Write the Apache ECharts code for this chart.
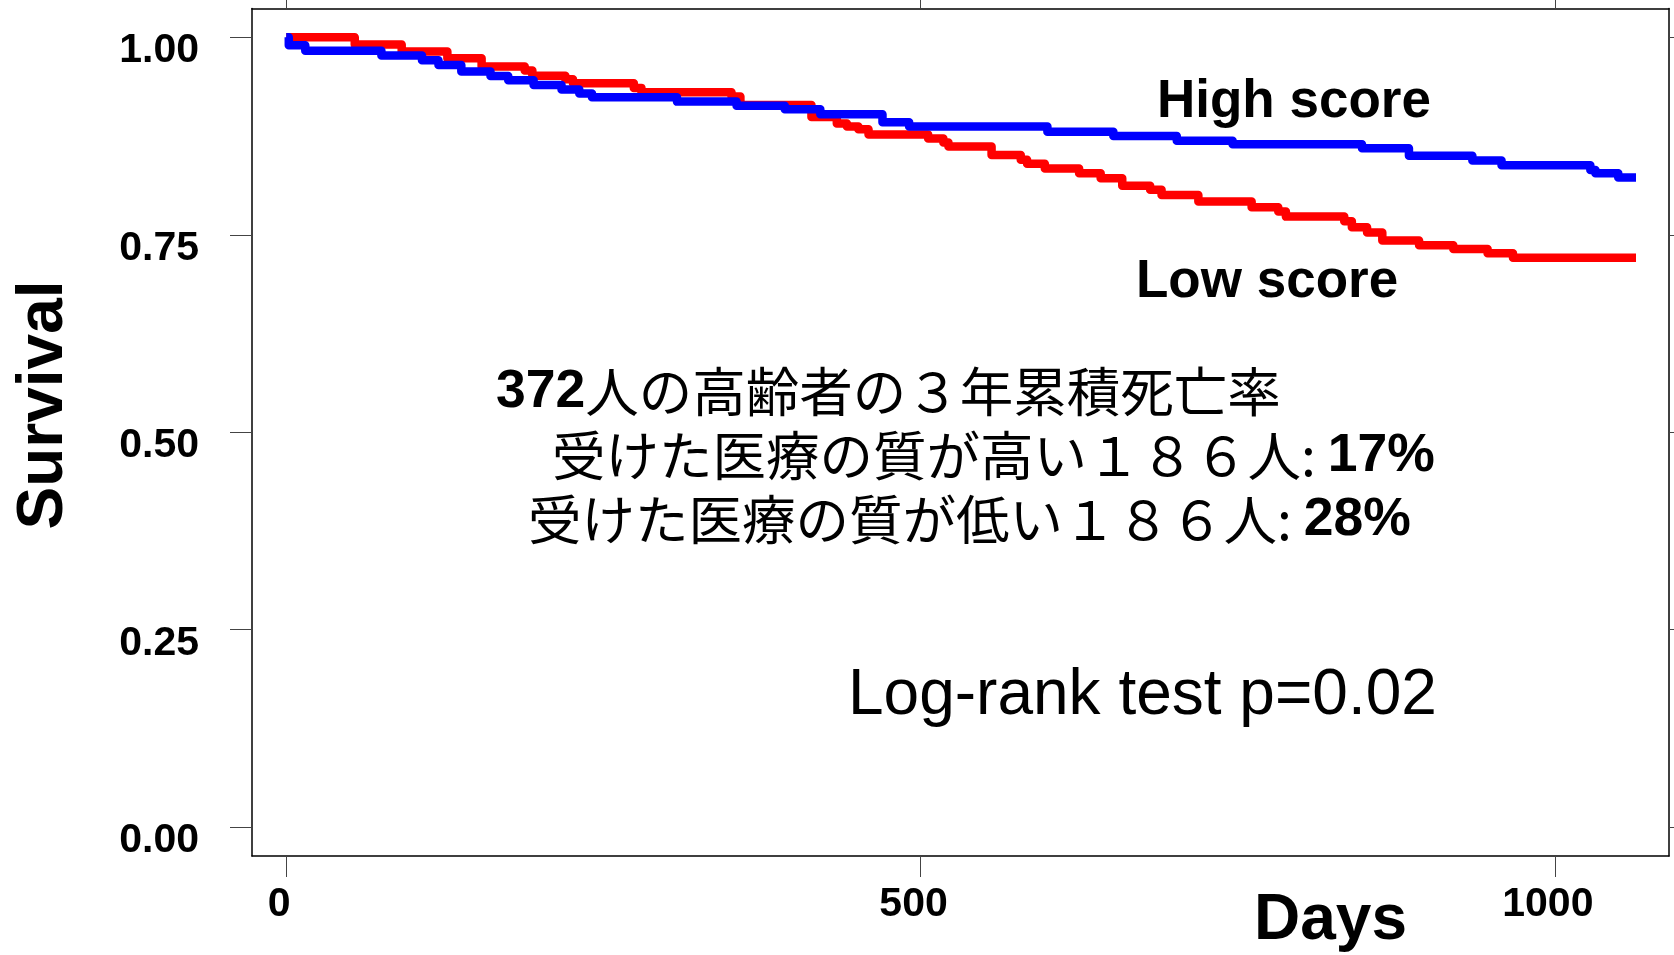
<!DOCTYPE html>
<html>
<head>
<meta charset="utf-8">
<script src="https://cdn.jsdelivr.net/npm/echarts@6/dist/echarts.min.js"></script>
<style>
  html, body { margin: 0; padding: 0; background: #fff; }
  #chart { width: 1674px; height: 955px; }
</style>
</head>
<body>
<div id="chart"></div>
<script>
// Kaplan-Meier steps (day of drop, survival after drop)
var lowDays = [0, 54, 91, 127, 154, 188, 194, 220, 226, 274, 280, 351, 358, 414, 434, 442, 451, 459, 506, 518, 522,
  556, 579, 584, 598, 625, 642, 659, 681, 690, 719, 761, 782, 788, 834, 840, 852, 864, 893, 920, 947, 967, 1064];
var lowSurv = [1.0, 0.991, 0.982, 0.9735, 0.963, 0.958, 0.9515, 0.947, 0.942, 0.936, 0.9305, 0.925, 0.9144, 0.899,
  0.891, 0.887, 0.8836, 0.877, 0.872, 0.8667, 0.8617, 0.851, 0.845, 0.84, 0.834, 0.828, 0.8217, 0.812, 0.807,
  0.8005, 0.792, 0.785, 0.7794, 0.773, 0.767, 0.7596, 0.7528, 0.7427, 0.7368, 0.732, 0.7267, 0.7208, 0.7208];

var highDays = [0, 2, 15, 75, 107, 120, 138, 161, 175, 195, 217, 231, 241, 308, 355, 393, 421, 470, 491, 600, 652,
  702, 746, 848, 885, 935, 958, 1028, 1032, 1050, 1064];
var highSurv = [1.0, 0.99, 0.983, 0.977, 0.971, 0.965, 0.9566, 0.951, 0.9456, 0.9397, 0.934, 0.929, 0.924, 0.9186,
  0.9135, 0.909, 0.9027, 0.8925, 0.887, 0.8806, 0.875, 0.869, 0.8646, 0.8596, 0.85, 0.844, 0.838, 0.832, 0.828,
  0.8224, 0.8224];

var xTicks = [0, 500, 1000];
var yTicks = [0, 0.25, 0.5, 0.75, 1];

var lowData = lowDays.map(function (d, i) { return [d, lowSurv[i]]; });
var highData = highDays.map(function (d, i) { return [d, highSurv[i]]; });

var latin = 'Liberation Sans, Arial, sans-serif';
var cjk = '"Noto Sans CJK JP", sans-serif';

var dom = echarts.init(document.getElementById('chart'));

var boxLine = { show: true, onZero: false, lineStyle: { color: '#000', width: 1.5 } };
var tickStyle = { color: '#444', width: 1 };
var boldRich = { b: { fontFamily: latin, fontWeight: 'bold', fontSize: 53.5, fill: '#000' } };

var option = {
  backgroundColor: '#fff',
  animation: false,
  grid: { left: 252, right: 5, top: 8.5, bottom: 99 },
  xAxis: [
    {
      type: 'value', min: -27, max: 1090, position: 'bottom',
      axisLine: boxLine,
      splitLine: { show: false },
      axisTick: { show: true, length: 21, customValues: xTicks, lineStyle: tickStyle },
      axisLabel: {
        customValues: xTicks, margin: 28, padding: [0, 14, 0, 0],
        color: '#000', fontFamily: latin, fontWeight: 'bold', fontSize: 41,
        formatter: function (v) { return String(v); }
      }
    },
    {
      type: 'value', min: -27, max: 1090, position: 'top',
      axisLine: boxLine,
      splitLine: { show: false },
      axisTick: { show: true, length: 21, customValues: xTicks, lineStyle: tickStyle },
      axisLabel: { show: false }
    }
  ],
  yAxis: [
    {
      type: 'value', min: -0.0365, max: 1.0365, position: 'left',
      axisLine: boxLine,
      splitLine: { show: false },
      axisTick: { show: true, length: 22, customValues: yTicks, lineStyle: tickStyle },
      axisLabel: {
        customValues: yTicks, margin: 53, verticalAlign: 'top', lineHeight: 27,
        color: '#000', fontFamily: latin, fontWeight: 'bold', fontSize: 41,
        formatter: function (v) { return v.toFixed(2); }
      }
    },
    {
      type: 'value', min: -0.0365, max: 1.0365, position: 'right',
      axisLine: boxLine,
      splitLine: { show: false },
      axisTick: { show: true, length: 22, customValues: yTicks, lineStyle: tickStyle },
      axisLabel: { show: false }
    }
  ],
  series: [
    {
      name: 'Low score', type: 'line', step: 'end', data: lowData,
      symbol: 'none', color: '#ff0000',
      lineStyle: { width: 8.5, color: '#ff0000', cap: 'butt', join: 'round' }
    },
    {
      name: 'High score', type: 'line', step: 'end', data: highData,
      symbol: 'none', color: '#0000ff',
      lineStyle: { width: 8.5, color: '#0000ff', cap: 'butt', join: 'round' }
    }
  ],
  graphic: [
    {
      type: 'text', x: 44, y: 405, rotation: Math.PI / 2,
      style: { text: 'Survival', fontFamily: latin, fontWeight: 'bold', fontSize: 64, fill: '#000',
        align: 'center', verticalAlign: 'middle' }
    },
    {
      type: 'text', x: 1254, y: 921,
      style: { text: 'Days', fontFamily: latin, fontWeight: 'bold', fontSize: 64, fill: '#000',
        align: 'left', verticalAlign: 'middle' }
    },
    {
      type: 'text', x: 1157, y: 102,
      style: { text: 'High score', fontFamily: latin, fontWeight: 'bold', fontSize: 53, fill: '#000',
        align: 'left', verticalAlign: 'middle' }
    },
    {
      type: 'text', x: 1136, y: 282,
      style: { text: 'Low score', fontFamily: latin, fontWeight: 'bold', fontSize: 53, fill: '#000',
        align: 'left', verticalAlign: 'middle' }
    },
    {
      type: 'text', x: 848, y: 696,
      style: { text: 'Log-rank test p=0.02', fontFamily: latin, fontSize: 64, fill: '#000',
        align: 'left', verticalAlign: 'middle' }
    },
    {
      type: 'text', x: 496, y: 392,
      style: {
        text: '{b|372}人の高齢者の３年累積死亡率',
        fontFamily: cjk, fontSize: 53.5, fill: '#000', align: 'left', verticalAlign: 'middle',
        rich: boldRich
      }
    },
    {
      type: 'text', x: 552, y: 456,
      style: {
        text: '受けた医療の質が高い１８６人: {b|17%}',
        fontFamily: cjk, fontSize: 53.5, fill: '#000', align: 'left', verticalAlign: 'middle',
        rich: boldRich
      }
    },
    {
      type: 'text', x: 528, y: 520,
      style: {
        text: '受けた医療の質が低い１８６人: {b|28%}',
        fontFamily: cjk, fontSize: 53.5, fill: '#000', align: 'left', verticalAlign: 'middle',
        rich: boldRich
      }
    }
  ]
};

dom.setOption(option);
window.addEventListener('resize', function () { dom.resize(); });
</script>
</body>
</html>
